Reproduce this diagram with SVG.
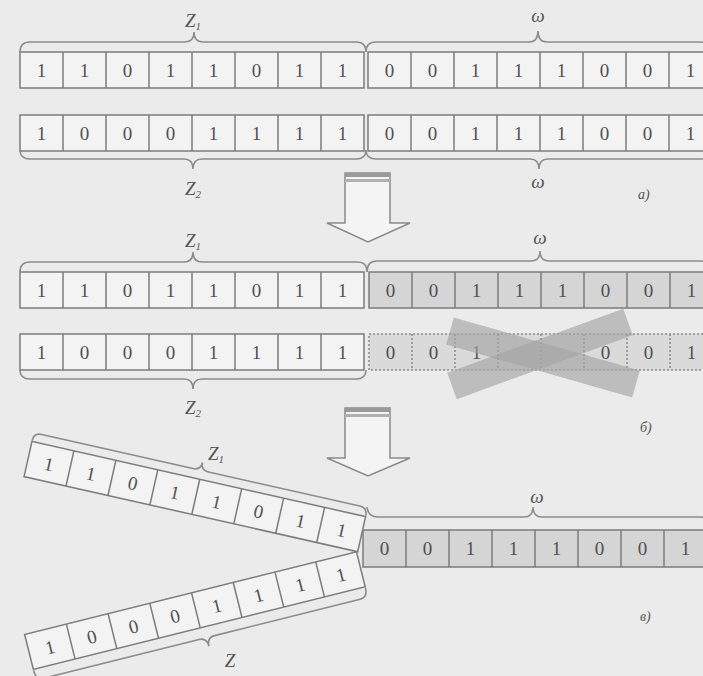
<svg xmlns="http://www.w3.org/2000/svg" width="703" height="676" viewBox="0 0 703 676">
<style>
.bg{fill:#ebebeb}
.cell{fill:#f3f3f3;stroke:#7c7c7c;stroke-width:1.5}
.gcell{fill:#d5d5d5;stroke:#7c7c7c;stroke-width:1.5}
.dcell{fill:#dadada;stroke:#8a8a8a;stroke-width:1.5;stroke-dasharray:2 2}
.div{stroke:#7c7c7c;stroke-width:1.5}
.ddiv{stroke:#8a8a8a;stroke-width:1.5;stroke-dasharray:2 2}
.d{font-family:"Liberation Serif",serif;font-size:19px;fill:#505050;text-anchor:middle}
.brace{fill:none;stroke:#8c8c8c;stroke-width:1.6}
.lbl{font-family:"Liberation Serif",serif;font-style:italic;font-size:19px;fill:#555;text-anchor:middle}
.sub{font-size:11px}
.tag{font-family:"Liberation Serif",serif;font-style:italic;font-size:14px;fill:#555}
.arrow{fill:#f4f4f4;stroke:#8a8a8a;stroke-width:1.5}
.xband{stroke:#a4a4a4;stroke-width:28;opacity:0.65;fill:none}
</style>
<rect class="bg" x="0" y="0" width="703" height="676"/>

<!-- Section a -->
<g id="a-z1">
<rect class="cell" x="20" y="52" width="344" height="36"/>
<path class="div" d="M63,52V88M106,52V88M149,52V88M192,52V88M235,52V88M278,52V88M321,52V88"/>
<text class="d" y="77"><tspan x="41.5">1</tspan><tspan x="84.5">1</tspan><tspan x="127.5">0</tspan><tspan x="170.5">1</tspan><tspan x="213.5">1</tspan><tspan x="256.5">0</tspan><tspan x="299.5">1</tspan><tspan x="342.5">1</tspan></text>
</g>
<g id="a-w1">
<rect class="cell" x="368" y="52" width="344" height="36"/>
<path class="div" d="M411,52V88M454,52V88M497,52V88M540,52V88M583,52V88M626,52V88M669,52V88"/>
<text class="d" y="77"><tspan x="389.5">0</tspan><tspan x="432.5">0</tspan><tspan x="475.5">1</tspan><tspan x="518.5">1</tspan><tspan x="561.5">1</tspan><tspan x="604.5">0</tspan><tspan x="647.5">0</tspan><tspan x="690.5">1</tspan></text>
</g>
<g id="a-z2">
<rect class="cell" x="20" y="115" width="344" height="36"/>
<path class="div" d="M63,115V151M106,115V151M149,115V151M192,115V151M235,115V151M278,115V151M321,115V151"/>
<text class="d" y="140"><tspan x="41.5">1</tspan><tspan x="84.5">0</tspan><tspan x="127.5">0</tspan><tspan x="170.5">0</tspan><tspan x="213.5">1</tspan><tspan x="256.5">1</tspan><tspan x="299.5">1</tspan><tspan x="342.5">1</tspan></text>
</g>
<g id="a-w2">
<rect class="cell" x="368" y="115" width="344" height="36"/>
<path class="div" d="M411,115V151M454,115V151M497,115V151M540,115V151M583,115V151M626,115V151M669,115V151"/>
<text class="d" y="140"><tspan x="389.5">0</tspan><tspan x="432.5">0</tspan><tspan x="475.5">1</tspan><tspan x="518.5">1</tspan><tspan x="561.5">1</tspan><tspan x="604.5">0</tspan><tspan x="647.5">0</tspan><tspan x="690.5">1</tspan></text>
</g>
<g id="a-labels">
<text class="lbl" x="193" y="27">Z<tspan class="sub" dy="3">1</tspan></text>
<text class="lbl" x="538" y="22">ω</text>
<text class="lbl" x="193" y="195">Z<tspan class="sub" dy="3">2</tspan></text>
<text class="lbl" x="538" y="188">ω</text>
<text class="tag" x="638" y="199">а)</text>
</g>

<!-- Section b -->
<g id="b-z1">
<rect class="cell" x="20" y="272" width="344" height="36"/>
<path class="div" d="M63,272V308M106,272V308M149,272V308M192,272V308M235,272V308M278,272V308M321,272V308"/>
<text class="d" y="297"><tspan x="41.5">1</tspan><tspan x="84.5">1</tspan><tspan x="127.5">0</tspan><tspan x="170.5">1</tspan><tspan x="213.5">1</tspan><tspan x="256.5">0</tspan><tspan x="299.5">1</tspan><tspan x="342.5">1</tspan></text>
</g>
<g id="b-w1">
<rect class="gcell" x="369" y="272" width="344" height="36"/>
<path class="div" d="M412,272V308M455,272V308M498,272V308M541,272V308M584,272V308M627,272V308M670,272V308"/>
<text class="d" y="297"><tspan x="390.5">0</tspan><tspan x="433.5">0</tspan><tspan x="476.5">1</tspan><tspan x="519.5">1</tspan><tspan x="562.5">1</tspan><tspan x="605.5">0</tspan><tspan x="648.5">0</tspan><tspan x="691.5">1</tspan></text>
</g>
<g id="b-z2">
<rect class="cell" x="20" y="334" width="344" height="36"/>
<path class="div" d="M63,334V370M106,334V370M149,334V370M192,334V370M235,334V370M278,334V370M321,334V370"/>
<text class="d" y="359"><tspan x="41.5">1</tspan><tspan x="84.5">0</tspan><tspan x="127.5">0</tspan><tspan x="170.5">0</tspan><tspan x="213.5">1</tspan><tspan x="256.5">1</tspan><tspan x="299.5">1</tspan><tspan x="342.5">1</tspan></text>
</g>
<g id="b-w2">
<rect class="dcell" x="369" y="334" width="344" height="36"/>
<path class="ddiv" d="M412,334V370M455,334V370M498,334V370M541,334V370M584,334V370M627,334V370M670,334V370"/>
<text class="d" y="359"><tspan x="390.5">0</tspan><tspan x="433.5">0</tspan><tspan x="476.5">1</tspan><tspan x="605.5">0</tspan><tspan x="648.5">0</tspan><tspan x="691.5">1</tspan></text>
</g>
<g id="b-cross">
<line class="xband" x1="450" y1="331" x2="636" y2="384"/>
<line class="xband" x1="628" y1="322" x2="452" y2="386"/>
</g>
<g id="b-labels">
<text class="lbl" x="193" y="247">Z<tspan class="sub" dy="3">1</tspan></text>
<text class="lbl" x="540" y="244">ω</text>
<text class="lbl" x="193" y="414">Z<tspan class="sub" dy="3">2</tspan></text>
<text class="tag" x="640" y="432">б)</text>
</g>

<!-- Section c -->
<g id="c-z1" transform="translate(28,459) rotate(12.7)">
<rect class="cell" x="0" y="-18" width="342" height="36"/>
<path class="div" d="M43,-18V18M86,-18V18M129,-18V18M172,-18V18M215,-18V18M258,-18V18M300,-18V18"/>
<text class="d" y="7"><tspan x="21.5">1</tspan><tspan x="64.5">1</tspan><tspan x="107.5">0</tspan><tspan x="150.5">1</tspan><tspan x="193.5">1</tspan><tspan x="236.5">0</tspan><tspan x="279.5">1</tspan><tspan x="321.5">1</tspan></text>
<path class="brace" d="M0,-19Q0,-27 8,-27L163,-27Q171,-27 171,-35Q171,-27 179,-27L334,-27Q342,-27 342,-19"/>
</g>
<g id="c-z2" transform="translate(29,652) rotate(-14)">
<rect class="cell" x="0" y="-18" width="342" height="36"/>
<path class="div" d="M43,-18V18M86,-18V18M129,-18V18M172,-18V18M215,-18V18M258,-18V18M300,-18V18"/>
<text class="d" y="7"><tspan x="21.5">1</tspan><tspan x="64.5">0</tspan><tspan x="107.5">0</tspan><tspan x="150.5">0</tspan><tspan x="193.5">1</tspan><tspan x="236.5">1</tspan><tspan x="279.5">1</tspan><tspan x="321.5">1</tspan></text>
<path class="brace" d="M0,19Q0,29 8,29L168,29Q176,29 176,38Q176,29 184,29L334,29Q342,29 342,19"/>
</g>
<g id="c-w">
<rect class="gcell" x="363" y="530" width="344" height="37"/>
<path class="div" d="M406,530V567M449,530V567M492,530V567M535,530V567M578,530V567M621,530V567M664,530V567"/>
<text class="d" y="555"><tspan x="384.5">0</tspan><tspan x="427.5">0</tspan><tspan x="470.5">1</tspan><tspan x="513.5">1</tspan><tspan x="556.5">1</tspan><tspan x="599.5">0</tspan><tspan x="642.5">0</tspan><tspan x="685.5">1</tspan></text>
</g>
<g id="c-labels">
<text class="lbl" x="216" y="460">Z<tspan class="sub" dy="3">1</tspan></text>
<text class="lbl" x="230" y="667">Z</text>
<text class="lbl" x="537" y="503">ω</text>
<text class="tag" x="640" y="621">в)</text>
</g>

<!-- connectors: braces and arrows -->
<g id="connectors">
<path class="brace" d="M20,52Q20,42 30,42L185,42Q194,42 194,32Q194,42 203,42L356,42Q366,42 366,52"/>
<path class="brace" d="M366,52Q366,42 376,42L529,42Q538,42 538,31Q538,42 547,42L700,42Q710,42 710,52"/>
<path class="brace" d="M20,150Q20,159 30,159L184,159Q193,159 193,169Q193,159 202,159L356,159Q366,159 366,150"/>
<path class="brace" d="M366,150Q366,159 376,159L530,159Q539,159 539,169Q539,159 548,159L700,159Q710,159 710,150"/>
<path class="brace" d="M20,272Q20,262 30,262L184,262Q193,262 193,252Q193,262 202,262L358,262Q367,262 367,272"/>
<path class="brace" d="M367,272Q367,261 377,261L531,261Q540,261 540,251Q540,261 549,261L700,261Q710,261 710,271"/>
<path class="brace" d="M20,370Q20,379 30,379L184,379Q193,379 193,389Q193,379 202,379L356,379Q366,379 366,370"/>
<path class="brace" d="M367,507Q368,517 378,517L524,517Q533,517 533,507Q533,517 542,517L700,517Q710,517 710,528"/>
<g id="arrow1">
<path class="arrow" d="M345,173H390V223H410L368,242L327,223H345Z"/>
<rect x="345" y="173" width="45" height="4" fill="#9a9a9a"/>
<rect x="345" y="179" width="45" height="3" fill="#b0b0b0"/>
</g>
<g id="arrow2">
<path class="arrow" d="M345,408H390V458H410L368,476L327,458H345Z"/>
<rect x="345" y="408" width="45" height="4" fill="#9a9a9a"/>
<rect x="345" y="414" width="45" height="3" fill="#b0b0b0"/>
</g>
</g>
</svg>
